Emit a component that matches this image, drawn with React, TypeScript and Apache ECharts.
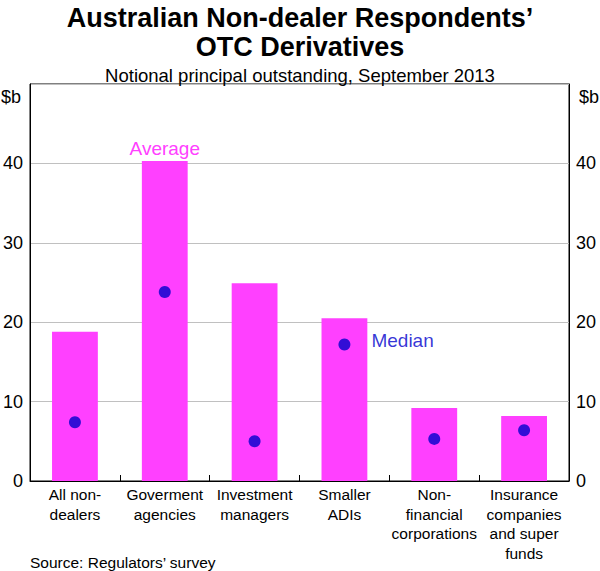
import React, { useEffect, useRef } from "react";
import * as echarts from "echarts";

const categories = [
  "All non-\ndealers",
  "Goverment\nagencies",
  "Investment\nmanagers",
  "Smaller\nADIs",
  "Non-\nfinancial\ncorporations",
  "Insurance\ncompanies\nand super\nfunds",
];
const averageValues = [18.8, 40.3, 24.9, 20.5, 9.2, 8.2];
const medianValues = [7.4, 23.8, 5.0, 17.2, 5.3, 6.4];
const yTicks = [0, 10, 20, 30, 40];

const FONT = '"Liberation Sans", Arial, sans-serif';
const MAGENTA = "#ff40ff";
const BLUE = "#0000cc";

const App = () => {
  const chartRef = useRef<HTMLDivElement>(null);

  useEffect(() => {
    const myChart = echarts.init(chartRef.current!, undefined, { renderer: "svg" });

    const yAxisBase = {
      type: "value",
      min: 0,
      max: 50,
      interval: 10,
      axisLine: { show: true, lineStyle: { color: "#000" } },
      axisTick: { show: false },
      splitLine: { show: false },
      axisLabel: {
        color: "#000",
        fontFamily: FONT,
        fontSize: 18,
        margin: 7,
        formatter: (v: number) => (yTicks.includes(v) ? String(v) : ""),
      },
    };

    const option = {
      animation: false,
      backgroundColor: "#fff",
      title: [
        {
          text: "Australian Non-dealer Respondents’\nOTC Derivatives",
          left: "center",
          top: -2,
          textStyle: {
            fontFamily: FONT,
            fontSize: 27,
            fontWeight: "bold",
            color: "#000",
            lineHeight: 29.5,
          },
        },
        {
          text: "Notional principal outstanding, September 2013",
          left: "center",
          top: 60,
          textStyle: {
            fontFamily: FONT,
            fontSize: 18.5,
            fontWeight: "normal",
            color: "#000",
            lineHeight: 21,
          },
        },
      ],
      grid: {
        left: 30,
        right: 31,
        top: 84,
        bottom: 90,
        show: true,
        borderColor: "#000",
        borderWidth: 1,
      },
      xAxis: {
        type: "category",
        data: categories,
        axisLine: { lineStyle: { color: "#000" } },
        axisTick: { show: true, inside: true, length: 6, lineStyle: { color: "#000" } },
        axisLabel: {
          color: "#000",
          fontFamily: FONT,
          fontSize: 15.5,
          lineHeight: 19.5,
          margin: 4,
          interval: 0,
        },
      },
      yAxis: [
        {
          ...yAxisBase,
          position: "left",
          splitLine: { show: true, lineStyle: { color: "#c0c0c0", width: 1 } },
        },
        { ...yAxisBase, position: "right" },
      ],
      graphic: [
        {
          type: "text",
          left: 1,
          top: 88,
          style: { text: "$b", fontFamily: FONT, fontSize: 18, fill: "#000" },
        },
        {
          type: "text",
          right: 1,
          top: 88,
          style: { text: "$b", fontFamily: FONT, fontSize: 18, fill: "#000" },
        },
        {
          type: "text",
          left: 30,
          top: 554,
          style: { text: "Source: Regulators’ survey", fontFamily: FONT, fontSize: 15.5, fill: "#000" },
        },
      ],
      series: [
        {
          type: "bar",
          name: "Average",
          barWidth: "51%",
          itemStyle: { color: MAGENTA },
          data: averageValues.map((v, i) =>
            i === 1
              ? {
                  value: v,
                  label: {
                    show: true,
                    position: "top",
                    distance: 3,
                    formatter: "Average",
                    color: MAGENTA,
                    fontFamily: FONT,
                    fontSize: 19,
                  },
                }
              : v
          ),
        },
        {
          type: "scatter",
          name: "Median",
          symbol: "circle",
          symbolSize: 12,
          itemStyle: { color: BLUE },
          z: 3,
          data: medianValues.map((v, i) =>
            i === 3
              ? {
                  value: v,
                  label: {
                    show: true,
                    position: "right",
                    distance: 21,
                    offset: [0, -4],
                    formatter: "Median",
                    color: BLUE,
                    fontFamily: FONT,
                    fontSize: 19,
                  },
                }
              : v
          ),
        },
      ],
    };
    myChart.setOption(option);

    return () => {
      myChart.dispose();
    };
  }, []);

  return (
    <div
      ref={chartRef}
      style={{ position: "absolute", left: 0, top: 0, width: 600, height: 571 }}
    ></div>
  );
};
export default App;
